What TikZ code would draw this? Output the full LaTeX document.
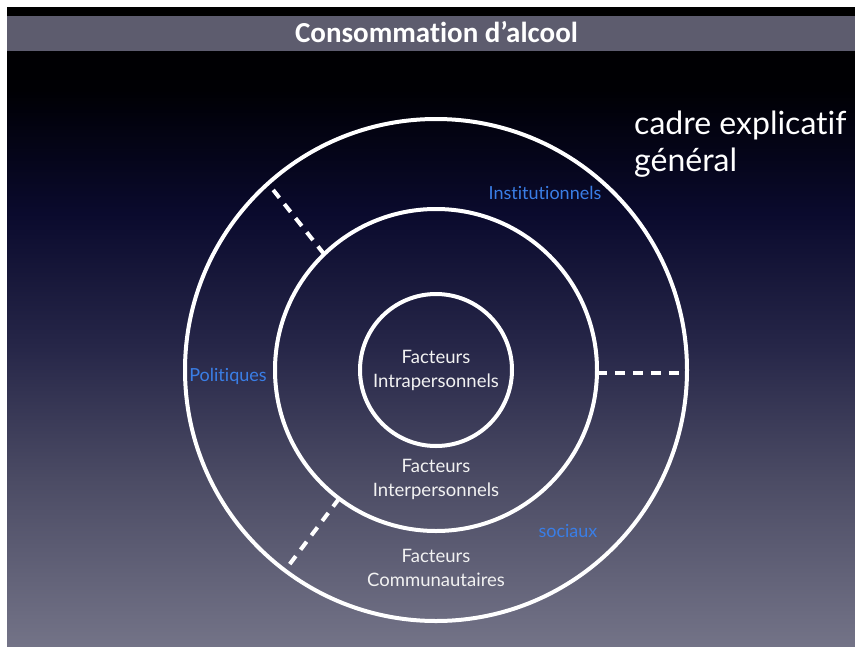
\documentclass[tikz,border=0pt]{standalone}
\usepackage{fontspec}
\setmainfont{Lato}[Ligatures={NoCommon,NoRare}]
\newfontfamily\titlefont{Carlito}[Ligatures={NoCommon,NoRare}]
\definecolor{bga}{RGB}{115,115,135}
\definecolor{bgb}{RGB}{75,75,100}
\definecolor{bgc}{RGB}{38,38,72}
\definecolor{bgd}{RGB}{10,10,45}
\definecolor{bge}{RGB}{2,2,14}
\definecolor{bgf}{RGB}{0,0,4}
\definecolor{bgg}{RGB}{0,0,0}
\definecolor{barcol}{RGB}{93,92,110}
\definecolor{lblue}{RGB}{58,126,230}
\definecolor{txtw}{RGB}{242,242,242}
\pgfdeclareverticalshading{bgshade}{100bp}{color(0bp)=(bga); color(25bp)=(bga); color(38.1bp)=(bgb); color(48.5bp)=(bgc); color(58.9bp)=(bgd); color(66.2bp)=(bge); color(68.5bp)=(bgf); color(75bp)=(bgg); color(100bp)=(bgg)}
\begin{document}
\begin{tikzpicture}[x=1pt,y=-1pt,
  ring/.style={circle, draw=white, line width=4pt, inner sep=0pt, outer sep=0pt},
  dashline/.style={draw=white, line width=4pt, dash pattern=on 10pt off 8pt},
  factor/.style={text=txtw, align=center, font=\fontsize{18.5}{24}\selectfont, inner sep=0pt},
  bluelbl/.style={text=lblue, font=\fontsize{18}{22}\selectfont, inner sep=0pt, anchor=base},
  titletext/.style={text=white, font=\titlefont\bfseries\fontsize{29}{32}\selectfont, inner sep=0pt, anchor=base},
  bigtext/.style={text=white, align=left, font=\fontsize{32}{37}\selectfont, inner sep=0pt, anchor=west}]
\useasboundingbox (0,0) rectangle (855,646);
\fill[white] (0,0) rectangle (855,646);
\shade[shading=bgshade] (7,7) rectangle (855,646);
\fill[barcol] (7,16) rectangle (855,51);
\node[titletext] (title) at (436.5,42) {Consommation d’alcool};
\node[bigtext] (cadre) at (634,144) {cadre explicatif\\général};
% circles
\node[ring, minimum size=502pt] (outer) at (436,370) {};
\node[ring, minimum size=322pt] (mid) at (436,370) {};
\node[ring, minimum size=152pt] (inner) at (436,370) {};
% dashed separators
\draw[dashline] (mid.-1.4) -- (mid.-1.4 -| outer.east);
\draw[dashline] (mid.134) -- (outer.132);
\draw[dashline] (mid.233) -- (outer.233);
% labels
\node[factor] (intra) at (436,370) {Facteurs\\Intrapersonnels};
\node[factor] (inter) at (436,479) {Facteurs\\Interpersonnels};
\node[factor] (comm) at (436,568) {Facteurs\\Communautaires};
\node[bluelbl] (inst) at (545,199) {Institutionnels};
\node[bluelbl] (poli) at (228,381) {Politiques};
\node[bluelbl] (soc) at (568,537) {sociaux};
\end{tikzpicture}
\end{document}
